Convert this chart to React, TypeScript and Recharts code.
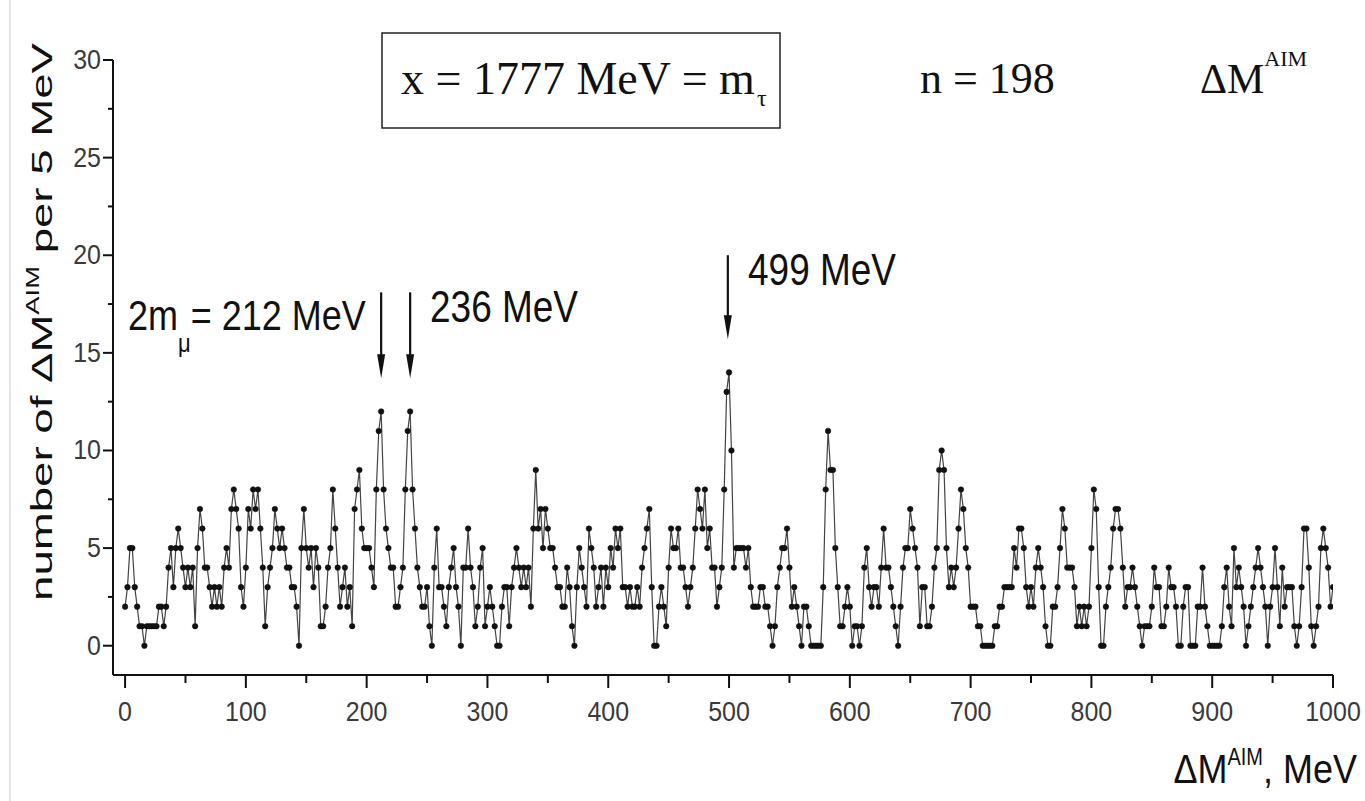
import { LineChart, Line, XAxis, YAxis, ReferenceLine } from 'recharts';

// sliding histogram, one point every 2 MeV, counts per 5 MeV window
const BIN_STEP = 2;

const counts000 = [2,3,5,5,3,2,1,1,0,1,1,1,1,1,2,2,1,2,4,5,3,5,6,5,4, 3,4,3,4,1,5,7,6,4,4,3,2,3,2,3,2,4,5,4,7,8,7,6,3,2];
const counts100 = [4,7,6,8,7,8,6,4,1,3,4,5,7,6,5,6,5,4,4,3,3,2,0,5,7, 5,4,5,3,5,4,1,1,2,4,5,8,6,4,2,3,4,2,3,1,7,8,9,6,5];
const counts200 = [5,5,4,3,8,11,12,8,6,5,4,4,2,2,3,4,8,11,12,8,6,4,3,2,2, 3,1,0,4,6,3,3,2,1,3,4,5,3,2,0,4,4,6,4,3,1,2,4,5,1];
const counts300 = [2,3,2,1,0,0,2,3,3,1,3,4,5,4,3,4,3,4,2,6,9,6,7,5,7, 6,5,5,4,3,3,2,2,4,3,1,0,3,5,4,3,2,6,5,4,2,3,4,2,4];
const counts400 = [3,5,4,6,5,6,3,3,2,3,2,2,3,2,4,5,6,7,3,0,0,2,3,2,1, 4,6,5,5,6,4,4,3,2,3,4,6,8,7,6,8,5,6,4,4,2,3,4,8,13];
const counts500 = [14,10,4,5,5,5,5,4,5,3,2,2,2,3,3,2,2,1,0,1,3,4,5,5,6, 4,2,3,2,1,0,2,2,1,0,0,0,0,0,3,8,11,9,9,5,3,1,1,2,3];
const counts600 = [2,0,1,1,0,1,4,5,3,2,3,3,2,4,6,4,4,3,2,1,0,2,4,5,5, 7,6,5,4,1,3,3,1,1,2,4,5,9,10,9,5,3,4,3,4,6,8,7,5,4];
const counts700 = [2,2,2,1,1,0,0,0,0,0,1,1,2,2,3,3,3,3,5,4,6,6,5,3,2, 3,2,4,5,4,3,1,0,0,2,2,3,5,7,6,4,4,4,3,1,2,1,2,1,2];
const counts800 = [5,8,7,3,0,0,2,3,4,6,7,7,6,4,2,3,3,4,3,2,1,0,1,1,1, 2,4,3,3,1,1,2,4,3,3,2,0,0,2,3,3,0,0,0,2,2,4,2,1,0];
const counts900 = [0,0,0,0,1,3,4,2,1,5,3,4,3,2,0,1,2,3,4,5,4,3,2,0,2, 3,5,3,1,4,2,3,3,3,1,0,1,3,6,6,4,1,0,1,2,5,6,5,4,2,3];

// major ticks get a label, minor ticks only a short line
const xTicks = [0, 50, 100, 150, 200, 250, 300, 350, 400, 450, 500, 550, 600, 650, 700, 750, 800, 850, 900, 950, 1000];
const yTicks = [0, 2.5, 5, 7.5, 10, 12.5, 15, 17.5, 20, 22.5, 25, 27.5, 30];

// arrows marking the peaks: position in MeV, arrow top and tip in counts
const peakArrows = [
  { mass: 212, from: 18.1, to: 13.7 },
  { mass: 236, from: 18.1, to: 13.7 },
  { mass: 499, from: 20.0, to: 15.7 },
];

const data = [counts000, counts100, counts200, counts300, counts400, counts500, counts600, counts700, counts800, counts900]
  .flat()
  .map((count, i) => ({ mass: i * BIN_STEP, count }));

const SANS = '"Liberation Sans", Arial, sans-serif';
const SERIF = '"Liberation Serif", "Times New Roman", serif';

const X_TICK = 13;
const Y_TICK = 10;
const TICK_GAP = 2;

const XTick = ({ x, y, payload }: any) => {
  const axisY = y - X_TICK - TICK_GAP;
  const major = payload.value % 100 === 0;
  const yb = y + 31;
  return (
    <g>
      <line x1={x} x2={x} y1={axisY} y2={axisY + (major ? X_TICK : 8)} stroke="#111" strokeWidth={2} />
      {major && (
        <text x={x} y={yb} textAnchor="middle" fontSize={25} fill="#3a3a3a" fontFamily={SANS}
          transform={`translate(0 ${yb}) scale(1 1.12) translate(0 ${-yb})`}>
          {payload.value}
        </text>
      )}
    </g>
  );
};

const YTick = ({ x, y, payload }: any) => {
  const axisX = x + Y_TICK + TICK_GAP;
  const major = payload.value % 5 === 0;
  const yb = y + 9;
  return (
    <g>
      <line x1={axisX - (major ? Y_TICK : 5)} x2={axisX} y1={y} y2={y} stroke="#111" strokeWidth={2} />
      {major && (
        <text x={x} y={yb} textAnchor="end" fontSize={25} fill="#3a3a3a" fontFamily={SANS}
          transform={`translate(0 ${yb}) scale(1 1.12) translate(0 ${-yb})`}>
          {payload.value}
        </text>
      )}
    </g>
  );
};

const Arrow = (props: any) => {
  const { x1, y1, x2, y2 } = props;
  return (
    <g>
      <line x1={x1} y1={y1} x2={x2} y2={y2 - 18} stroke="#111" strokeWidth={2.2} />
      <polygon points={`${x2 - 4},${y2 - 24} ${x2 + 4},${y2 - 24} ${x2},${y2}`} fill="#111" />
    </g>
  );
};

export default function App() {
  return (
    <div style={{ position: 'absolute', left: 0, top: 0, width: 1365, height: 801, background: '#fff' }}>
      <div style={{ position: 'absolute', left: 9, top: 0, width: 2, height: 801, background: '#e4e4e4' }} />
      <LineChart width={1365} height={801} data={data} margin={{ top: 60, right: 32, bottom: 66, left: 53 }}>
        <XAxis type="number" dataKey="mass" domain={[-10, 1000]} ticks={xTicks} height={60} interval={0}
          allowDataOverflow stroke="#111" strokeWidth={2} tickSize={X_TICK} tickMargin={TICK_GAP}
          tickLine={false} tick={<XTick />} />
        <YAxis type="number" domain={[-1.5, 30]} ticks={yTicks} width={60} interval={0}
          allowDataOverflow stroke="#111" strokeWidth={2} tickSize={Y_TICK} tickMargin={TICK_GAP}
          tickLine={false} tick={<YTick />} />
        <Line type="linear" dataKey="count" stroke="#444" strokeWidth={1.2}
          dot={{ r: 2.8, fill: '#111', stroke: '#111', strokeWidth: 0.5 }} isAnimationActive={false} />
        {peakArrows.map((a) => (
          <ReferenceLine key={a.mass} segment={[{ x: a.mass, y: a.from }, { x: a.mass, y: a.to }]} shape={Arrow} />
        ))}
      </LineChart>

      <svg width={1365} height={801} style={{ position: 'absolute', left: 0, top: 0, pointerEvents: 'none' }}>
        {/* y axis title */}
        <text transform="translate(52 322) rotate(-90) scale(1.52 1)" textAnchor="middle" fontSize={30}
          fontFamily={SANS} fill="#111">
          number of ΔM<tspan fontSize={18} dy={-13}>AIM</tspan><tspan dy={13}> per 5 MeV</tspan>
        </text>

        {/* x axis title */}
        <text x={1357} y={783} textAnchor="end" fontSize={36} fontFamily={SANS} fill="#111"
          transform="translate(0 783) scale(1 1.15) translate(0 -783)">
          ΔM<tspan fontSize={20} dy={-16}>AIM</tspan><tspan dy={16}>, MeV</tspan>
        </text>

        {/* header */}
        <rect x={382} y={33} width={398} height={95} fill="none" stroke="#222" strokeWidth={1.5} />
        <text x={401} y={94} fontSize={46} fontFamily={SERIF} fill="#111">
          x = 1777 MeV = m<tspan fontSize={24} dx={2} dy={12}>τ</tspan>
        </text>
        <text x={920} y={93} fontSize={44} fontFamily={SERIF} fill="#111">n = 198</text>
        <text x={1200} y={93} fontSize={42} fontFamily={SERIF} fill="#111">
          ΔM<tspan fontSize={22} dy={-27}>AIM</tspan>
        </text>

        {/* peak labels */}
        <text x={128} y={330} fontSize={36} fontFamily={SANS} fill="#111"
          transform="translate(0 330) scale(1 1.2) translate(0 -330)">
          2m<tspan fontSize={22} dy={18}>μ</tspan><tspan dy={-18}>= 212 MeV</tspan>
        </text>
        <text x={430} y={322} fontSize={37} fontFamily={SANS} fill="#111"
          transform="translate(0 322) scale(1 1.18) translate(0 -322)">236 MeV</text>
        <text x={748} y={285} fontSize={37} fontFamily={SANS} fill="#111"
          transform="translate(0 285) scale(1 1.18) translate(0 -285)">499 MeV</text>
      </svg>
    </div>
  );
}
